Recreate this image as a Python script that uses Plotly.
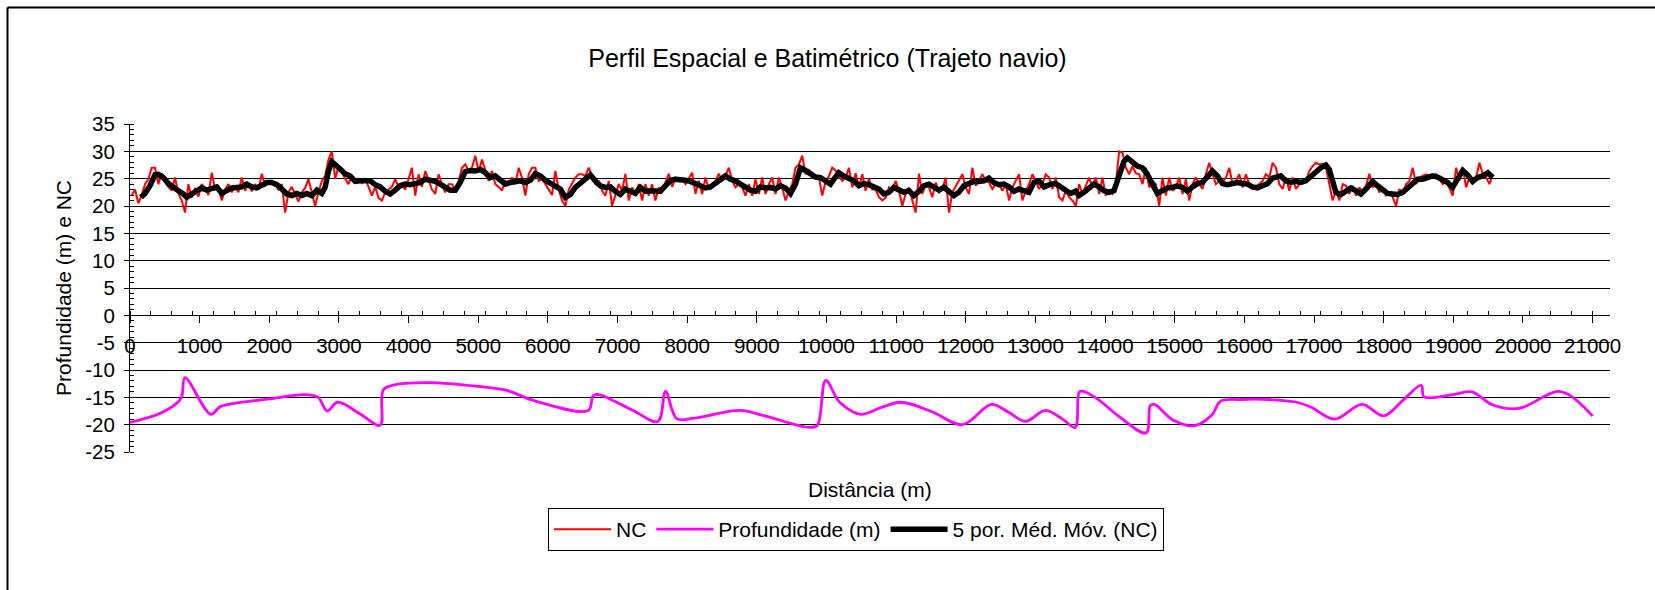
import plotly.graph_objects as go

# ---------------- data ----------------
# NC (red), sampled every ~47.9 m along the track starting at ~24 m
NC_START = 24.0
NC_STEP = 47.9
NC = [
    21.9, 23.0, 20.5, 22.0, 24.0, 24.9, 27.0, 27.0, 24.0, 26.0, 24.5, 23.5, 22.8, 25.2, 22.3, 21.0, 18.8, 24.0, 21.5, 23.3,
    21.7, 24.0, 23.3, 22.0, 26.1, 23.0, 23.5, 21.0, 23.0, 24.0, 22.5, 23.7, 22.5, 25.2, 22.8, 24.0, 22.7, 24.0, 23.0, 25.9,
    23.7, 24.2, 24.3, 24.0, 23.0, 24.0, 18.8, 22.5, 23.5, 22.0, 20.8, 22.5, 23.3, 24.9, 22.5, 20.0, 22.5, 24.6, 25.5, 28.5,
    30.0, 25.0, 27.2, 26.0, 25.0, 24.0, 25.5,
    24.5, 25.0, 24.2, 25.0, 23.5, 21.9, 23.5, 21.5, 21.0, 22.5, 23.0, 23.5, 24.9, 23.5, 24.0, 23.0, 25.0, 27.0, 21.9, 25.8,
    23.5, 26.4, 24.8, 23.0, 22.2, 25.8, 24.0, 22.5, 24.0, 24.0, 22.9, 24.5, 27.0, 27.6, 26.5, 27.0, 29.2, 26.3, 28.5, 26.3,
    24.6, 26.4, 24.0, 23.5, 22.8, 24.6, 24.0, 25.2, 24.0, 27.0, 25.2, 21.9, 25.8, 27.0, 27.0, 24.6, 25.0, 24.0, 23.0, 22.0,
    26.4, 23.0, 21.0, 20.0, 23.0, 24.0, 25.2, 25.8, 25.8,
    25.5, 27.0, 25.5, 24.0, 24.5, 22.8, 21.9, 24.6, 20.0, 22.2, 24.0, 22.8, 25.9, 21.0, 23.4, 22.2, 24.0, 21.0, 24.0, 21.9,
    24.0, 21.0, 23.4, 22.8, 24.5, 25.9, 23.5, 25.2, 24.6, 25.0, 24.0, 25.0, 26.1, 22.2, 24.6, 22.2, 25.2, 23.1, 23.4, 24.5,
    25.9, 24.6, 25.5, 27.0, 24.6, 23.4, 24.0, 23.4, 21.9, 24.0, 21.9, 24.9, 22.2, 25.2, 22.2, 24.0, 25.2, 22.2, 25.2, 23.4,
    21.0, 22.8, 24.0, 27.0, 27.6, 29.2, 25.8, 26.7, 25.2,
    25.5, 25.2, 21.9, 24.5, 25.5, 27.0, 26.5, 25.5, 24.6, 25.2, 27.0, 23.4, 26.0, 23.4, 25.8, 22.8, 25.0, 23.0, 23.0, 21.6,
    21.0, 21.5, 23.4, 22.8, 24.6, 22.8, 20.0, 22.2, 23.4, 21.0, 18.8, 25.9, 22.2, 24.0, 23.4, 21.6, 24.3, 22.5, 23.1, 25.2,
    18.8, 22.5, 23.7, 24.6, 25.8, 23.4, 22.2, 27.0, 23.7, 24.6, 25.8, 24.6, 24.3, 23.1, 24.0, 24.0, 22.8, 24.0, 21.0, 23.4,
    24.6, 25.8, 21.0, 22.8, 24.0, 25.8, 24.6, 23.1, 24.0,
    25.8, 25.2, 23.1, 25.2, 21.6, 21.0, 22.8, 21.6, 21.0, 20.0, 24.0, 22.2, 23.7, 25.2, 23.4, 25.2, 22.2, 25.2, 21.9, 22.8,
    22.2, 24.0, 30.0, 29.8, 27.0, 25.8, 27.3, 26.0, 25.8, 24.0, 27.0, 23.4, 24.6, 24.0, 20.0, 25.2, 21.9, 25.2, 22.8, 23.4,
    25.2, 22.2, 24.9, 21.0, 24.0, 25.2, 24.0, 23.1, 25.8, 27.9, 25.8, 24.0, 24.6, 24.3, 25.2, 27.0, 24.0, 24.6, 25.8, 23.4,
    25.8, 24.0, 23.1, 23.7, 24.0, 24.6, 25.8, 25.2, 27.9,
    27.0, 24.0, 23.1, 25.2, 22.8, 25.2, 23.1, 24.0, 24.3, 24.6, 26.4, 27.3, 27.9, 27.6, 27.7, 27.0, 24.0, 21.0, 22.8, 21.0,
    24.0, 23.7, 22.2, 23.7, 21.9, 23.4, 22.5, 23.7, 25.9, 23.4, 24.0, 22.5, 23.4, 21.9, 22.5, 21.6, 20.0, 23.1, 22.2, 24.0,
    24.6, 27.0, 24.0, 25.2, 25.5, 25.8, 25.5, 25.2, 25.8, 24.9, 24.0, 24.6, 23.1, 21.9, 27.0, 24.6, 27.0, 23.4, 25.2, 24.0,
    25.2, 27.9, 25.8, 25.2, 24.0, 25.8,
]

# 5-point moving average of NC (black)
MA_DIST = [
    158, 216, 287, 359, 407, 479, 551, 623, 695, 767, 814, 886, 958, 1030, 1102, 1174, 1245, 1317, 1389, 1461,
    1533, 1605, 1676, 1748, 1820, 1892, 1964, 2036, 2108, 2180, 2251, 2323, 2395, 2467, 2539, 2611, 2683, 2754, 2802, 2850,
    2898, 2946, 3018, 3090, 3161,
    3233, 3305, 3376, 3448, 3520, 3592, 3664, 3736, 3808, 3879, 3951, 4023, 4095, 4167, 4239, 4310, 4382, 4454, 4526, 4598,
    4670, 4741, 4813, 4885, 4957, 5029, 5101, 5172, 5244, 5316, 5388, 5460, 5532, 5604, 5675, 5747, 5819, 5891, 5963, 6035,
    6106, 6178, 6250, 6322, 6394, 6466,
    6537, 6609, 6681, 6753, 6825, 6897, 6968, 7040, 7112, 7184, 7256, 7328, 7400, 7471, 7543, 7615, 7687, 7759, 7831, 7902,
    7974, 8046, 8118, 8190, 8262, 8333, 8405, 8477, 8549, 8621, 8693, 8765, 8836, 8908, 8980, 9052, 9124, 9196, 9267, 9339,
    9411, 9483, 9555, 9627, 9698, 9770,
    9842, 9914, 9986, 10058, 10129, 10177, 10249, 10321, 10393, 10465, 10537, 10608, 10680, 10752, 10824, 10896, 10967, 11039,
    11111, 11183, 11255, 11327, 11398, 11470, 11542, 11614, 11686, 11758, 11830, 11901, 11973, 12045, 12117, 12189, 12261,
    12332, 12404, 12476, 12548, 12620, 12692, 12763, 12835, 12907, 12979, 13051, 13123,
    13219, 13290, 13362, 13434, 13506, 13578, 13626, 13698, 13770, 13841, 13913, 13985, 14057, 14129, 14200, 14272, 14320,
    14392, 14464, 14536, 14608, 14680, 14752, 14823, 14895, 14967, 15039, 15111, 15183, 15255, 15326, 15398, 15470, 15542,
    15614, 15686, 15757, 15829, 15901, 15973, 16045, 16117, 16189, 16260, 16332, 16404,
    16523, 16595, 16667, 16739, 16811, 16882, 16954, 17026, 17098, 17170, 17218, 17266, 17314, 17385, 17457, 17529, 17601,
    17673, 17745, 17841, 17913, 17984, 18056, 18128, 18200, 18272, 18344, 18416, 18488, 18560, 18631, 18703, 18775, 18847,
    18919, 18991, 19063, 19135, 19206, 19278, 19350, 19422, 19494, 19566,
]
MA_VALUES = [
    21.6, 22.3, 23.7, 25.7, 25.8, 25.2, 24.1, 23.3, 22.8, 22.2, 21.6, 22.2, 22.8, 23.3, 22.9, 23.3, 23.5, 22.3, 22.7, 23.3,
    23.4, 23.5, 24.0, 23.5, 23.3, 23.7, 24.3, 24.3, 23.9, 23.1, 22.2, 21.9, 22.3, 21.9, 22.3, 21.9, 22.9, 22.3, 23.4, 26.4,
    28.1, 27.6, 26.7, 25.9, 25.5,
    24.5, 24.6, 24.6, 24.6, 23.9, 23.5, 22.7, 22.2, 22.9, 23.7, 24.0, 23.9, 24.1, 24.3, 24.9, 24.7, 24.5, 24.0, 23.4, 22.9,
    22.9, 24.3, 26.3, 26.5, 26.4, 26.7, 26.1, 25.2, 25.5, 24.6, 24.0, 24.3, 24.5, 24.6, 24.3, 24.7, 25.9, 25.5, 24.7, 24.1,
    23.5, 23.1, 21.6, 22.1, 23.4, 24.1,
    25.1, 25.7, 24.6, 23.7, 23.4, 23.5, 22.7, 22.1, 23.1, 22.8, 22.3, 23.4, 22.7, 22.8, 22.7, 22.7, 23.7, 24.7, 24.9, 24.9,
    24.7, 24.5, 24.1, 23.7, 23.3, 23.5, 24.1, 24.6, 25.5, 24.9, 24.6, 24.0, 23.5, 22.9, 22.7, 23.5, 23.3, 23.4, 23.1, 23.7,
    23.3, 22.3, 24.0, 27.0, 26.5, 25.8,
    25.3, 25.2, 24.6, 24.0, 25.3, 26.1, 25.5, 25.1, 24.6, 23.7, 24.1, 23.9, 23.4, 23.1, 22.2, 22.5, 23.4, 22.9,
    22.5, 22.8, 21.9, 22.7, 23.7, 24.0, 23.4, 22.9, 23.4, 22.7, 21.9, 22.5, 23.7, 24.1, 24.5, 24.5, 24.6,
    25.1, 24.3, 23.9, 24.0, 23.5, 22.7, 23.1, 22.7, 22.5, 24.3, 24.6, 23.5,
    24.0, 24.1, 23.4, 22.7, 22.3, 22.7, 21.9, 22.5, 23.4, 24.0, 23.5, 22.8, 22.5, 22.8, 25.5, 28.2, 28.8,
    27.9, 27.3, 27.0, 25.8, 24.0, 22.3, 22.8, 23.3, 23.4, 23.7, 23.4, 22.7, 23.5, 24.1, 24.3, 25.2, 26.4,
    25.5, 24.1, 23.9, 24.0, 24.3, 24.1, 24.0, 23.5, 23.3, 23.7, 24.1, 25.1,
    25.5, 24.6, 24.3, 24.5, 24.3, 24.6, 25.5, 26.3, 27.0, 27.5, 26.7, 24.6, 22.5, 22.1, 22.8, 23.3, 22.8,
    22.2, 23.1, 24.5, 23.7, 22.9, 22.3, 22.2, 22.1, 22.5, 23.4, 24.3, 24.9, 24.9, 25.2, 25.5, 25.3, 24.9,
    24.3, 23.4, 24.9, 26.5, 25.7, 24.5, 25.2, 25.5, 26.1, 25.2,
]

# Profundidade (m) (magenta, smoothed line)
PROF_DIST = [
    0, 420, 650, 740, 790, 1160, 1300, 2000, 2500, 2700, 2830, 2980, 3300, 3590, 3640, 3850, 4300, 5000, 5400, 5800,
    6580, 6650, 6730, 7220, 7580, 7690, 7850, 8100, 8760, 9090, 9760, 9870, 9990, 10190, 10495, 10800, 11070, 11510,
    11950, 12370, 12610, 12860, 13140, 13380, 13570, 13630, 13690, 13880, 14210, 14590, 14650, 14710, 14980, 15280,
    15530, 15660, 15940, 16350, 16750, 16960, 17290, 17690, 18000, 18280, 18540, 18580, 18990, 19270, 19550, 19860,
    20010, 20490, 20670, 21000,
]
PROF_VALUES = [
    -19.6, -18.0, -16.3, -15.0, -11.4, -18.1, -16.7, -15.3, -14.5, -15.0, -17.5, -15.9, -18.0, -20.1, -13.6, -12.6,
    -12.3, -13.0, -13.7, -15.6, -17.4, -14.7, -14.5, -17.4, -19.4, -13.9, -18.9, -18.8, -17.4, -18.3, -20.5, -20.1,
    -11.9, -15.9, -18.1, -16.8, -15.9, -17.6, -20.0, -16.3, -17.7, -19.4, -17.4, -18.9, -20.5, -14.0, -13.9, -15.2,
    -18.6, -21.5, -16.5, -16.3, -19.2, -20.2, -18.3, -15.7, -15.4, -15.4, -15.9, -16.8, -19.0, -16.3, -18.4, -15.5,
    -12.8, -14.9, -14.5, -14.0, -16.3, -17.1, -16.8, -13.9, -14.6, -18.4,
]

X_TICKS = list(range(0, 21001, 1000))
Y_TICKS = list(range(-25, 36, 5))

TITLE = "Perfil Espacial e Batimétrico (Trajeto navio)"
X_TITLE = "Distância (m)"
Y_TITLE = "Profundidade (m) e NC"

# ---------------- figure ----------------
nc_dist = [NC_START + NC_STEP * i for i in range(len(NC))]

FONT = "Liberation Sans, Arial, sans-serif"
W, H = 1655, 590
ML, MR, MT, MB = 130, 45, 124, 138
PW, PH = W - ML - MR, H - MT - MB


def px_to_paper_x(px):
    return (px - ML) / PW


def px_to_paper_y(py):
    return (H - MB - py) / PH


fig = go.Figure()
fig.add_trace(go.Scatter(x=nc_dist, y=NC, mode="lines", name="NC",
                         line=dict(color="#FF0000", width=2)))
fig.add_trace(go.Scatter(x=PROF_DIST, y=PROF_VALUES, mode="lines", name="Profundidade (m)",
                         line=dict(color="#FF00FF", width=2.8, shape="spline", smoothing=1.0)))
fig.add_trace(go.Scatter(x=MA_DIST, y=MA_VALUES, mode="lines", name="5 por. Méd. Móv. (NC)",
                         line=dict(color="#000000", width=5.5)))

border = dict(color="black", width=2)
fig.update_layout(
    width=W, height=H,
    margin=dict(l=ML, r=MR, t=MT, b=MB, autoexpand=False),
    paper_bgcolor="white", plot_bgcolor="white",
    font=dict(family=FONT, size=21, color="black"),
    title=dict(text=TITLE, x=0.5, xref="container", y=1 - 58 / H, yref="container",
               xanchor="center", yanchor="middle", font=dict(size=25, color="black")),
    xaxis=dict(range=[0, 21250], anchor="free", position=25 / 60,
               tickmode="array", tickvals=X_TICKS, ticktext=[str(v) for v in X_TICKS],
               ticks="outside", ticklen=7, tickcolor="black", tickwidth=1,
               ticklabelstandoff=5,
               minor=dict(tickmode="linear", tick0=0, dtick=300, ticks="inside", ticklen=4,
                          tickcolor="black", tickwidth=1, showgrid=False),
               showline=True, linecolor="black", linewidth=1,
               showgrid=False, zeroline=False, tickfont=dict(size=20.5)),
    yaxis=dict(range=[-25, 35], tickmode="array", tickvals=Y_TICKS, ticktext=[str(v) for v in Y_TICKS],
               ticks="outside", ticklen=5, tickcolor="black", tickwidth=1,
               ticklabelstandoff=5,
               minor=dict(tickmode="linear", tick0=0, dtick=1, ticks="inside", ticklen=4,
                          tickcolor="black", tickwidth=1, showgrid=False),
               showline=True, linecolor="black", linewidth=1,
               showgrid=True, gridcolor="black", gridwidth=1, zeroline=False,
               tickfont=dict(size=20.5),
               title=dict(text=Y_TITLE, standoff=7, font=dict(size=21))),
    showlegend=True,
    legend=dict(orientation="h", x=px_to_paper_x(548), y=px_to_paper_y(508),
                xanchor="left", yanchor="top", bordercolor="black", borderwidth=1,
                bgcolor="white", font=dict(size=21), itemwidth=57, tracegroupgap=0),
    annotations=[dict(text=X_TITLE, xref="paper", yref="paper", x=0.5, y=px_to_paper_y(489),
                      xanchor="center", yanchor="middle", showarrow=False, font=dict(size=21))],
    shapes=[
        dict(type="line", xref="paper", yref="paper",
             x0=px_to_paper_x(7.5), x1=px_to_paper_x(7.5),
             y0=px_to_paper_y(H + 5), y1=px_to_paper_y(7.5), line=border, layer="above"),
        dict(type="line", xref="paper", yref="paper",
             x0=px_to_paper_x(7.5), x1=px_to_paper_x(W + 5),
             y0=px_to_paper_y(7.5), y1=px_to_paper_y(7.5), line=border, layer="above"),
    ],
)

fig.write_html("out.html")
